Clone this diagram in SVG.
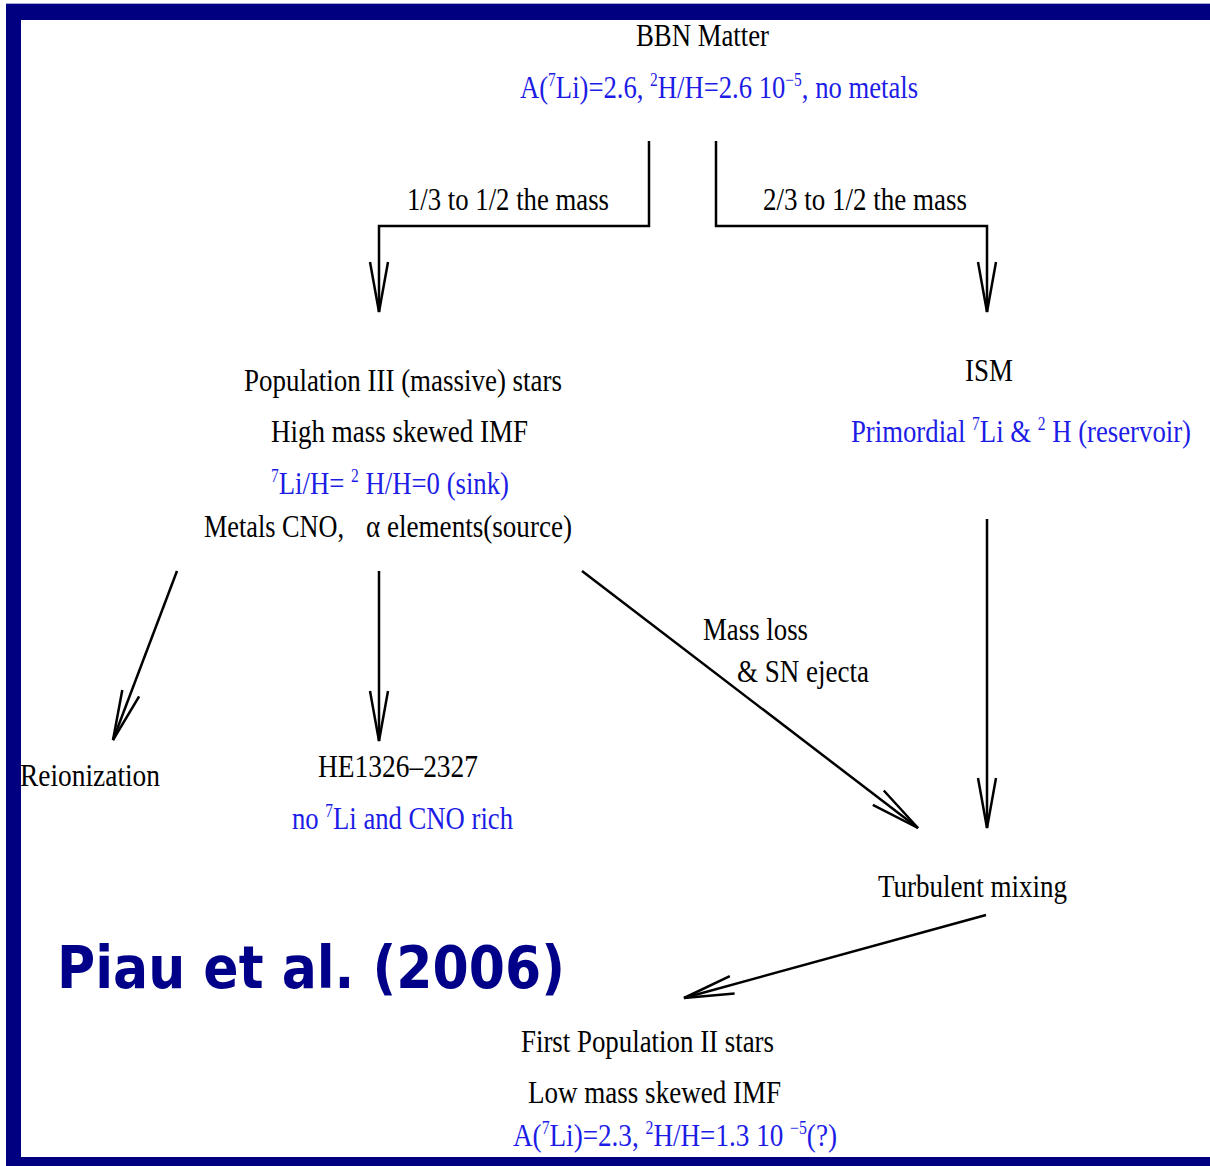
<svg xmlns="http://www.w3.org/2000/svg" width="1210" height="1166" viewBox="0 0 1210 1166">
<style>
.t{font-family:"Liberation Serif","Times New Roman",serif;font-size:31px;fill:#000}
.b{fill:#1c1ce6}
.s{font-size:18px}
.conn line,.conn polyline{stroke:#000;stroke-width:2.5;fill:none}
.frame{fill:#000080}
.cite{font-family:"Comic Sans MS","DejaVu Sans",sans-serif;font-weight:bold;font-size:58px;fill:#000088}
</style>
<defs>
<marker id="ah" markerUnits="userSpaceOnUse" markerWidth="60" markerHeight="26" refX="50" refY="13" orient="auto" overflow="visible">
<path d="M0,4 L50,13 L0,22" fill="none" stroke="#000" stroke-width="2.5"/>
</marker>
</defs>
<rect width="1210" height="1166" fill="#fff"/>
<g id="frame">
<rect x="6" y="3" width="1204" height="1" fill="#a8a8d8"/>
<rect class="frame" x="6" y="4" width="1204" height="16"/>
<rect class="frame" x="6" y="4" width="15" height="1162"/>
<rect class="frame" x="6" y="1157" width="1204" height="9"/>
</g>
<g class="conn" id="connectors">
<polyline points="649,141 649,226 379,226 379,312" marker-end="url(#ah)"/>
<polyline points="716,141 716,226 987,226 987,312" marker-end="url(#ah)"/>
<line x1="177" y1="571" x2="113" y2="740" marker-end="url(#ah)"/>
<line x1="379" y1="571" x2="379" y2="741" marker-end="url(#ah)"/>
<line x1="582" y1="571" x2="918" y2="828" marker-end="url(#ah)"/>
<line x1="987" y1="519" x2="987" y2="828" marker-end="url(#ah)"/>
<line x1="986" y1="915" x2="684" y2="998" marker-end="url(#ah)"/>
<text class="t" x="407" y="210" textLength="202" lengthAdjust="spacingAndGlyphs">1/3 to 1/2 the mass</text>
<text class="t" x="763" y="210" textLength="204" lengthAdjust="spacingAndGlyphs">2/3 to 1/2 the mass</text>
<text class="t" x="703" y="640" textLength="105" lengthAdjust="spacingAndGlyphs">Mass loss</text>
<text class="t" x="737" y="682" textLength="132" lengthAdjust="spacingAndGlyphs">&amp; SN ejecta</text>
</g>
<g id="bbn">
<text class="t" x="636" y="46" textLength="133" lengthAdjust="spacingAndGlyphs">BBN Matter</text>
<text class="t b" x="520" y="98" textLength="398" lengthAdjust="spacingAndGlyphs">A(<tspan class="s" dy="-12">7</tspan><tspan dy="12">Li)=2.6, </tspan><tspan class="s" dy="-12">2</tspan><tspan dy="12">H/H=2.6 10</tspan><tspan class="s" dy="-12">−5</tspan><tspan dy="12">, no metals</tspan></text>
</g>
<g id="pop3">
<text class="t" x="244" y="391" textLength="318" lengthAdjust="spacingAndGlyphs">Population III (massive) stars</text>
<text class="t" x="271" y="442" textLength="257" lengthAdjust="spacingAndGlyphs">High mass skewed IMF</text>
<text class="t b" x="271" y="494" textLength="238" lengthAdjust="spacingAndGlyphs"><tspan class="s" dy="-12">7</tspan><tspan dy="12">Li/H= </tspan><tspan class="s" dy="-12">2</tspan><tspan dy="12"> H/H=0 (sink)</tspan></text>
<text class="t" x="204" y="537" textLength="140" lengthAdjust="spacingAndGlyphs">Metals CNO,</text>
<text class="t" x="366" y="537" textLength="206" lengthAdjust="spacingAndGlyphs">α elements(source)</text>
</g>
<g id="ism">
<text class="t" x="965" y="381" textLength="48" lengthAdjust="spacingAndGlyphs">ISM</text>
<text class="t b" x="851" y="442" textLength="340" lengthAdjust="spacingAndGlyphs">Primordial <tspan class="s" dy="-12">7</tspan><tspan dy="12">Li &amp; </tspan><tspan class="s" dy="-12">2</tspan><tspan dy="12"> H (reservoir)</tspan></text>
</g>
<g id="reionization">
<text class="t" x="20" y="786" textLength="140" lengthAdjust="spacingAndGlyphs">Reionization</text>
</g>
<g id="he1326">
<text class="t" x="318" y="777" textLength="160" lengthAdjust="spacingAndGlyphs">HE1326–2327</text>
<text class="t b" x="292" y="829" textLength="221" lengthAdjust="spacingAndGlyphs">no <tspan class="s" dy="-12">7</tspan><tspan dy="12">Li and CNO rich</tspan></text>
</g>
<g id="turbulent">
<text class="t" x="878" y="897" textLength="189" lengthAdjust="spacingAndGlyphs">Turbulent mixing</text>
</g>
<g id="pop2">
<text class="t" x="521" y="1052" textLength="253" lengthAdjust="spacingAndGlyphs">First Population II stars</text>
<text class="t" x="528" y="1103" textLength="253" lengthAdjust="spacingAndGlyphs">Low mass skewed IMF</text>
<text class="t b" x="513" y="1146" textLength="324" lengthAdjust="spacingAndGlyphs">A(<tspan class="s" dy="-12">7</tspan><tspan dy="12">Li)=2.3, </tspan><tspan class="s" dy="-12">2</tspan><tspan dy="12">H/H=1.3 10 </tspan><tspan class="s" dy="-12">−5</tspan><tspan dy="12">(?)</tspan></text>
</g>
<g id="citation">
<text class="cite" x="57" y="988" textLength="508" lengthAdjust="spacingAndGlyphs">Piau et al. (2006)</text>
</g>
</svg>
